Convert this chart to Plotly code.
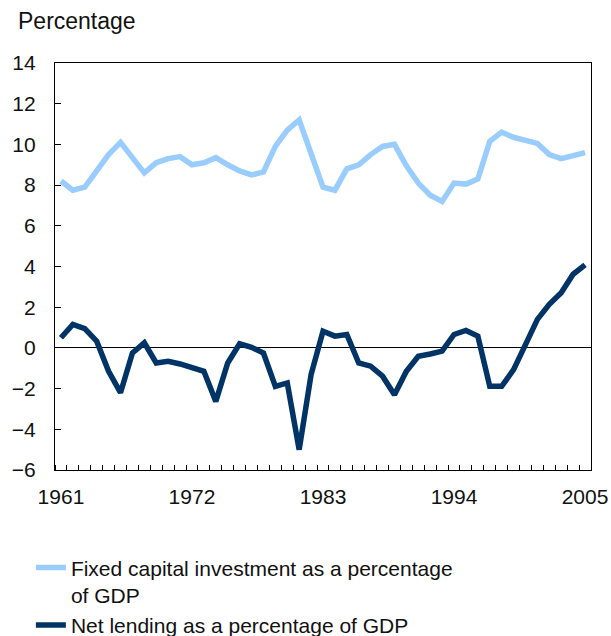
import plotly.graph_objects as go

years = list(range(1961, 2006))
fixed_capital = [8.2, 7.75, 7.9, 8.75, 9.5, 10.1, 9.35, 8.6, 9.1, 9.3,
                 9.4, 9.0, 9.1, 9.35, 9.0, 8.7, 8.5, 8.65, 9.9, 10.7,
                 11.2, 9.6, 7.9, 7.75, 8.8, 9.0, 9.5, 9.9, 10.0, 8.95,
                 8.1, 7.5, 7.2, 8.1, 8.05, 8.3, 10.15, 10.6, 10.35, 10.2,
                 10.05, 9.5, 9.3, 9.45, 9.6]
net_lending = [0.5, 1.15, 0.95, 0.33, -1.15, -2.2, -0.25, 0.25, -0.74, -0.66,
               -0.79, -0.95, -1.15, -2.63, -0.74, 0.2, 0.03, -0.25, -1.89, -1.72,
               -5.0, -1.31, 0.82, 0.58, 0.66, -0.74, -0.9, -1.39, -2.3, -1.15,
               -0.41, -0.3, -0.16, 0.66, 0.86, 0.58, -1.89, -1.89, -1.07, 0.16,
               1.4, 2.14, 2.71, 3.62, 4.08]
x_tick_years = [1961, 1972, 1983, 1994, 2005]
y_ticks = list(range(-6, 15, 2))

FONT = "Liberation Sans, Arial, sans-serif"

fig = go.Figure()
fig.add_trace(go.Scatter(
    x=years, y=fixed_capital, mode="lines",
    name="Fixed capital investment as a percentage<br>of GDP",
    line=dict(color="#99CCFF", width=5.5),
))
fig.add_trace(go.Scatter(
    x=years, y=net_lending, mode="lines",
    name="Net lending as a percentage of GDP",
    line=dict(color="#003366", width=5.5),
))

fig.update_layout(
    width=611, height=636,
    margin=dict(l=55, r=20, t=63, b=166, autoexpand=False),
    paper_bgcolor="white", plot_bgcolor="white",
    font=dict(family=FONT, size=21, color="#111111"),
    showlegend=True,
    legend=dict(
        x=-0.045, y=-0.19, xanchor="left", yanchor="top",
        orientation="v", valign="top", traceorder="normal",
        font=dict(size=21), bgcolor="rgba(0,0,0,0)",
        itemwidth=30, tracegroupgap=0,
    ),
    annotations=[dict(
        text="Percentage", x=-0.072, y=1.0, xref="paper", yref="paper",
        xanchor="left", yanchor="bottom", yshift=27, showarrow=False,
        font=dict(size=23),
    )],
)

fig.update_xaxes(
    range=[1960.5, 2005.5], automargin=False,
    tickmode="array", tickvals=x_tick_years,
    ticktext=[str(y) for y in x_tick_years],
    ticks="", ticklabelstandoff=8,
    minor=dict(tickmode="linear", tick0=1960.5, dtick=1, ticks="inside",
               ticklen=5, tickcolor="black", tickwidth=1, showgrid=False),
    showline=True, linecolor="black", linewidth=1.3, mirror=True,
    showgrid=False, zeroline=False,
)
fig.update_yaxes(
    range=[-6, 14], automargin=False,
    tickmode="array", tickvals=y_ticks,
    ticks="inside", ticklen=6, tickcolor="black", tickwidth=1,
    ticklabelstandoff=14,
    showline=True, linecolor="black", linewidth=1.3, mirror=True,
    showgrid=False, zeroline=True, zerolinecolor="black", zerolinewidth=1.3,
)

fig.write_html(
    "out.html",
    config={"displayModeBar": False},
    post_script="document.body.style.margin='0';document.body.style.padding='0';",
)
